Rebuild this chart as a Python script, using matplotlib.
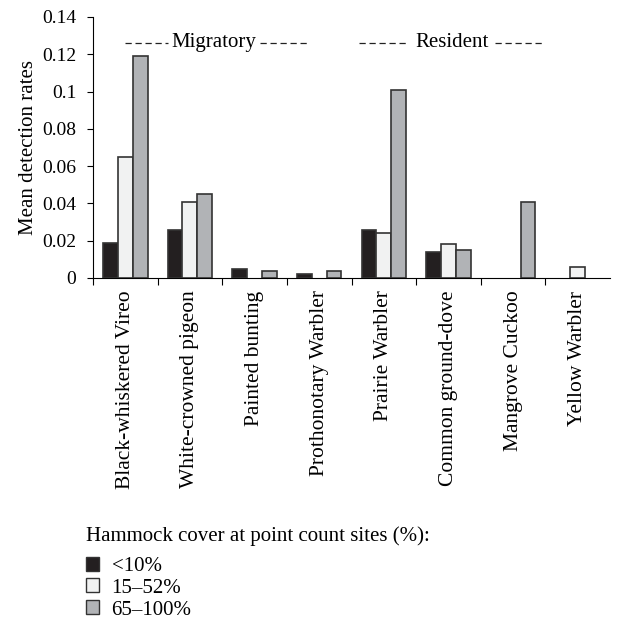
import numpy as np
import matplotlib.pyplot as plt
from matplotlib.patches import Patch

species = ['Black-whiskered Vireo', 'White-crowned pigeon', 'Painted bunting',
           'Prothonotary Warbler', 'Prairie Warbler', 'Common ground-dove',
           'Mangrove Cuckoo', 'Yellow Warbler']
low_cover = [0.019, 0.026, 0.005, 0.002, 0.026, 0.014, 0.0, 0.0]
mid_cover = [0.065, 0.041, 0.0, 0.0, 0.024, 0.018, 0.0, 0.006]
high_cover = [0.119, 0.045, 0.004, 0.004, 0.101, 0.015, 0.041, 0.0]
cover_labels = ['<10%', '15\u201352%', '65\u2013100%']
colors = ['#231f20', '#f1f2f2', '#b1b3b6']

plt.rcParams['font.family'] = ['Liberation Serif', 'DejaVu Serif']

fig = plt.figure(figsize=(6.17, 6.25), dpi=100)
ax = fig.add_axes([0.1507, 0.5552, 0.838, 0.4176])

x = np.arange(len(species))
w = 0.23
for i, vals in enumerate([low_cover, mid_cover, high_cover]):
    # zero values get no outline so nothing shows on the baseline
    lws = [1.2 if v > 0 else 0 for v in vals]
    ax.bar(x + (i - 1) * w, vals, w, color=colors[i], edgecolor='#333333',
           linewidth=lws, zorder=3)

ax.set_xlim(-0.5, len(species) - 0.5)
ax.set_ylim(0, 0.14)
ax.set_yticks(np.arange(0, 0.141, 0.02))
ax.set_yticklabels(['0', '0.02', '0.04', '0.06', '0.08', '0.1', '0.12', '0.14'],
                   fontsize=14)
ax.set_ylabel('Mean detection rates', fontsize=15, labelpad=3)

# ticks at group boundaries, labels at centers
ax.set_xticks(np.arange(len(species)) - 0.5)
ax.set_xticklabels([])
ax.set_xticks(x, minor=True)
ax.set_xticklabels(species, minor=True, rotation=90, fontsize=15.5)
ax.tick_params(axis='x', which='minor', length=0, pad=9)
ax.tick_params(axis='x', which='major', length=5, direction='out')
ax.tick_params(axis='y', length=4, direction='out', pad=8)

for s in ['top', 'right']:
    ax.spines[s].set_visible(False)

# group labels with dashed leaders
yg = 0.1262
dash = dict(color='#222222', lw=0.9, linestyle=(0, (5, 3)))
ax.plot([-0.01, 0.66], [yg, yg], **dash)
ax.plot([2.09, 2.83], [yg, yg], **dash)
ax.text(1.37, yg, 'Migratory', ha='center', va='center', fontsize=15)
ax.plot([3.62, 4.36], [yg, yg], **dash)
ax.plot([5.72, 6.49], [yg, yg], **dash)
ax.text(5.06, yg, 'Resident', ha='center', va='center', fontsize=15)

fig.text(0.139, 0.142, 'Hammock cover at point count sites (%):', ha='left',
         va='center', fontsize=15)
handles = [Patch(facecolor=c, edgecolor='#333333', label=l) for c, l in zip(colors, cover_labels)]
fig.legend(handles=handles, loc='upper left', bbox_to_anchor=(0.115, 0.1326),
           frameon=False, fontsize=15, handlelength=0.65, handleheight=0.65,
           handletextpad=0.6, labelspacing=0.12, borderpad=0.2)

fig.savefig('out.png', dpi=100)
